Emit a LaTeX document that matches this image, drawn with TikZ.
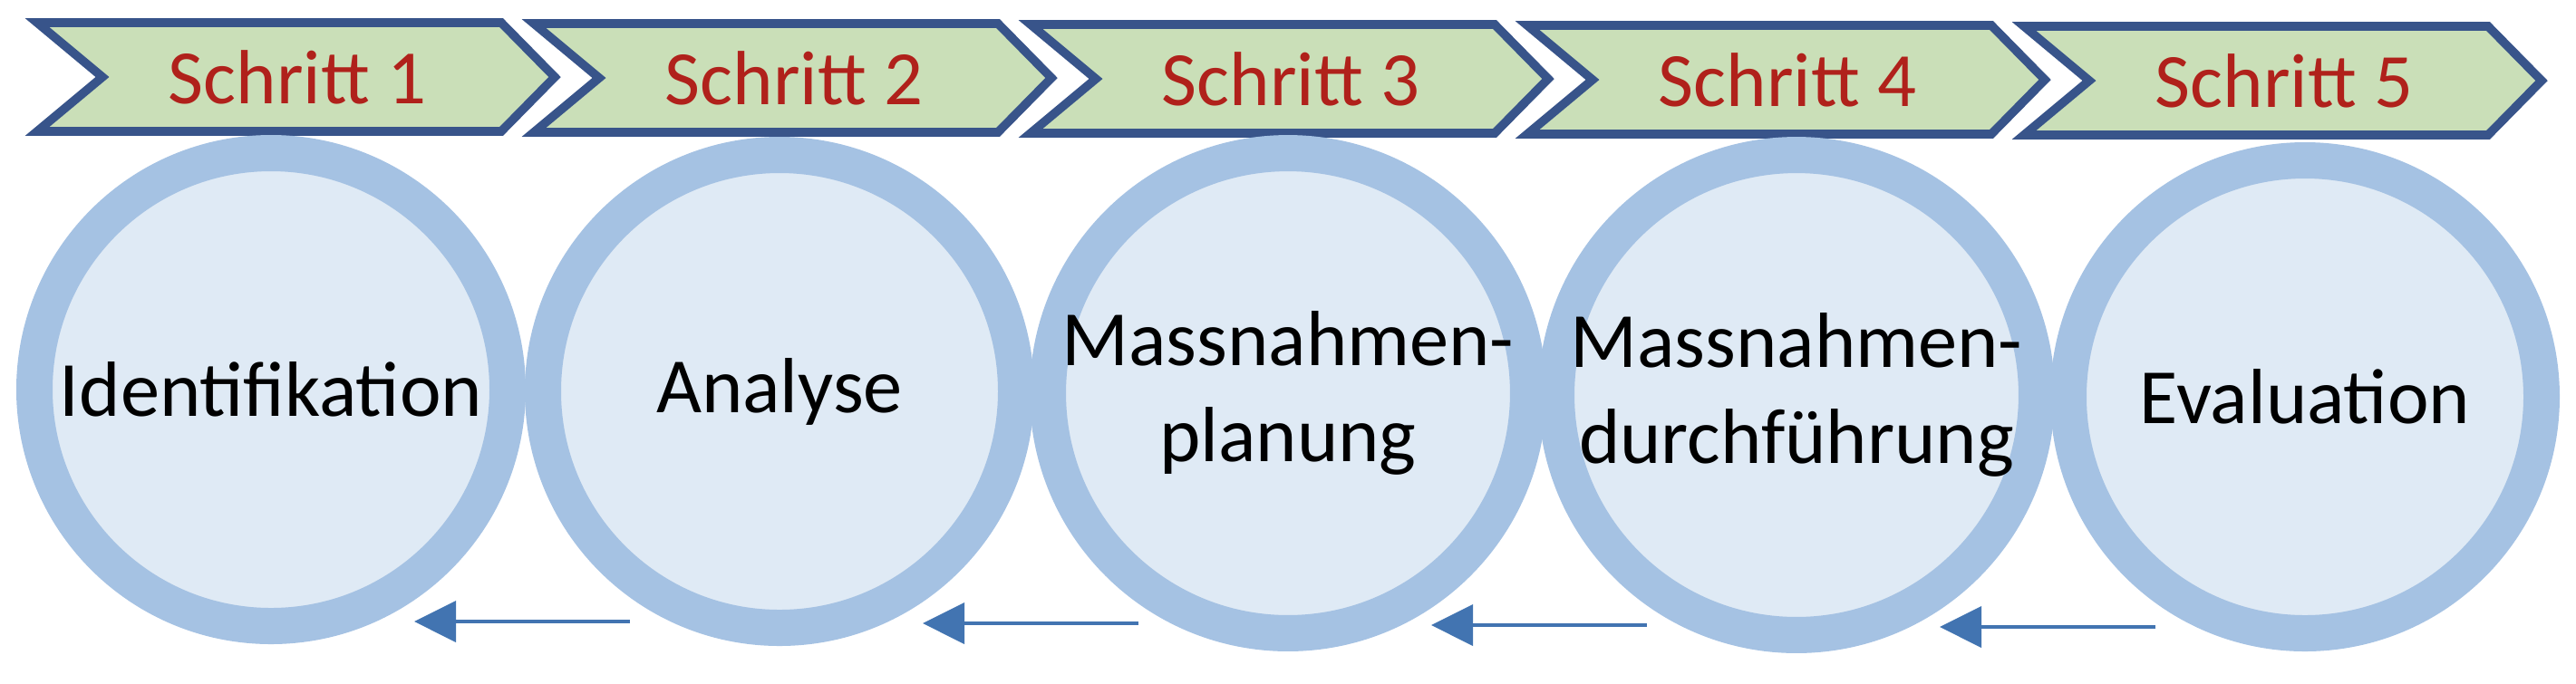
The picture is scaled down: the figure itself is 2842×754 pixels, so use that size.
\documentclass[tikz,border=0pt]{standalone}
\usepackage{fontspec}
\setmainfont{Carlito}
\usepackage{tikz}
\usetikzlibrary{arrows.meta,calc}
\definecolor{stepgreen}{HTML}{CADFB8}
\definecolor{stepblue}{HTML}{38548A}
\definecolor{stepred}{HTML}{B0211B}
\definecolor{ringblue}{HTML}{A5C2E3}
\definecolor{innerblue}{HTML}{DFEAF5}
\definecolor{arrowblue}{HTML}{4274B1}

\tikzset{
  chevron/.style={fill=stepgreen, draw=stepblue, line width=2.4pt},
  steplabel/.style={text=stepred, font=\fontsize{21.2}{24}\selectfont},
  phase/.style={circle, draw=ringblue, fill=innerblue, line width=10pt,
    minimum size=130.5pt, inner sep=0pt, align=center,
    font=\fontsize{21.6}{26.5}\selectfont},
  back/.style={draw=arrowblue, line width=1pt,
    -{Triangle[length=11.5pt,width=11.25pt]}}
}

\begin{document}
\begin{tikzpicture}[x=0.25pt, y=-0.25pt]
  \useasboundingbox (0,0) rectangle (2842,754);
  % steps
  \foreach \i in {1,...,5}{
    \pgfmathsetmacro{\xl}{36+548*(\i-1)}
    \pgfmathsetmacro{\yt}{20+\i-1}
    \draw[chevron] (\xl+5,\yt+5) -- ++(512,0) -- ++(59,60) -- ++(-59,60)
      -- ++(-512,0) -- ++(72,-60) -- cycle;
    \node[steplabel] (s\i) at (\xl+292,\yt+65) {Schritt \i};
  }
  % phases
  \foreach \i/\txt in {1/Identifikation, 2/Analyse, 3/Massnahmen-\\planung,
      4/Massnahmen-\\durchführung, 5/Evaluation}
    \node[phase] (c\i) at ({299+561*(\i-1)},{430+2*(\i-1)}) {\txt};
  % back arrows
  \foreach \i [evaluate=\i as \j using int(\i+1)] in {1,...,4}
    \draw[back] ($(c\i)+(396,256)$) -- ($(c\i)+(158,256)$);
\end{tikzpicture}
\end{document}
